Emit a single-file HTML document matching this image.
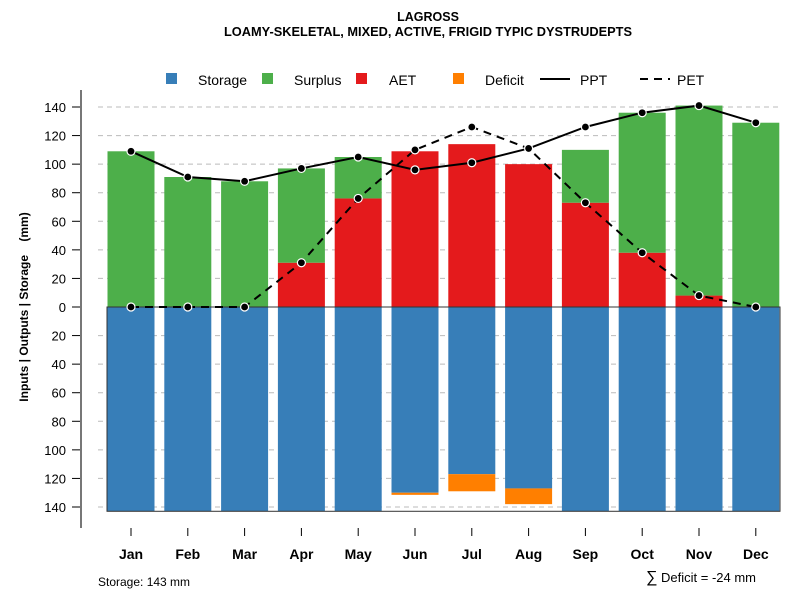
<!DOCTYPE html>
<html><head><meta charset="utf-8"><style>
body{margin:0;background:#fff}
svg{font-family:"Liberation Sans",sans-serif}
</style></head><body>
<svg id="c" width="800" height="600" xmlns="http://www.w3.org/2000/svg">
<text x="428" y="21" text-anchor="middle" font-size="12.5" font-weight="bold">LAGROSS</text>
<text x="428" y="36" text-anchor="middle" font-size="12.8" font-weight="bold">LOAMY-SKELETAL, MIXED, ACTIVE, FRIGID TYPIC DYSTRUDEPTS</text>
<g id="legend" font-size="14">
<g><rect x="166" y="73" width="11" height="11" fill="#377EB8"/><text x="198" y="85">Storage</text></g>
<g><rect x="262" y="73" width="11" height="11" fill="#4DAF4A"/><text x="294" y="85">Surplus</text></g>
<g><rect x="356" y="73" width="11" height="11" fill="#E41A1C"/><text x="389" y="85">AET</text></g>
<g><rect x="453" y="73" width="11" height="11" fill="#FF7F00"/><text x="485" y="85">Deficit</text></g>
<g><line x1="540" y1="79" x2="570" y2="79" stroke="#000" stroke-width="2"/><text x="580" y="85">PPT</text></g>
<g><line x1="640" y1="79" x2="670" y2="79" stroke="#000" stroke-width="2" stroke-dasharray="8,6"/><text x="677" y="85">PET</text></g>
</g>
<text transform="translate(28,307) rotate(-90)" text-anchor="middle" font-size="12" font-weight="bold">Inputs | Outputs | Storage&#160;&#160;&#160;&#160;(mm)</text>
<g id="grid"></g><g id="bars"></g><g id="lines"></g><g id="axes"></g>
<text x="98" y="586" font-size="12">Storage: 143 mm</text>
<text x="646" y="582" font-size="13"><tspan font-size="16">∑</tspan> Deficit = -24 mm</text>
</svg>
<script>
const months=["Jan","Feb","Mar","Apr","May","Jun","Jul","Aug","Sep","Oct","Nov","Dec"];
const aet=[0,0,0,31,76,109,114,100,73,38,8,0];
const surplus=[109,91,88,66,29,0,0,0,37,98,133,129];
const storage=[143,143,143,143,143,130,117,127,143,143,143,143];
const deficit=[0,0,0,0,0,1.5,12,11,0,0,0,0];
const ppt=[109,91,88,97,105,96,101,111,126,136,141,129];
const pet=[0,0,0,31,76,110,126,111,73,38,8,0];
const yTicks=[140,120,100,80,60,40,20,0,-20,-40,-60,-80,-100,-120,-140];
const NS="http://www.w3.org/2000/svg";
const y=v=>307-v*200/140;
const x=i=>131+i*56.8;
const bw=47;
function mk(p,t,a){const e=document.createElementNS(NS,t);for(const k in a)e.setAttribute(k,a[k]);document.getElementById(p).appendChild(e);return e;}
yTicks.forEach(v=>{
 if(v!==0){const g=mk("grid","line",{x1:98,x2:780,y1:y(v),y2:y(v),stroke:"#bbb","stroke-dasharray":"5,4"});
 
 }
 const t=mk("axes","line",{x1:72,x2:81,y1:y(v),y2:y(v),stroke:"#000"});
 
 
 const l=mk("axes","text",{x:66,y:y(v)+5,"text-anchor":"end","font-size":"13"});l.textContent=Math.abs(v);
 
 
});
const ax=mk("axes","line",{x1:81,x2:81,y1:90,y2:528,stroke:"#777","stroke-width":2});


months.forEach((m,i)=>{
 const cx=x(i),l=cx-bw/2;
 const s=mk("bars","rect",{x:l,y:y(0),width:bw,height:y(-storage[i])-y(0),fill:"#377EB8"});
 
 
 if(deficit[i]>0){const d=mk("bars","rect",{x:l,y:y(-storage[i]),width:bw,height:y(-storage[i]-deficit[i])-y(-storage[i]),fill:"#FF7F00"});
 
 }
 if(aet[i]>0){const a=mk("bars","rect",{x:l,y:y(aet[i]),width:bw,height:y(0)-y(aet[i]),fill:"#E41A1C"});
 
 }
 if(surplus[i]>0){const u=mk("bars","rect",{x:l,y:y(aet[i]+surplus[i]),width:bw,height:y(aet[i])-y(aet[i]+surplus[i]),fill:"#4DAF4A"});
 
 }
 const t=mk("axes","line",{x1:cx,x2:cx,y1:528,y2:536,stroke:"#000"});
 
 
 const lb=mk("axes","text",{x:cx,y:559,"text-anchor":"middle","font-size":"14","font-weight":"bold"});lb.textContent=m;
 
 
});
const box=mk("bars","rect",{x:107,y:y(0),width:673,height:y(-143)-y(0),fill:"none",stroke:"#333","stroke-width":1});


function series(arr,name,dash){
 const p=mk("lines","polyline",{points:arr.map((v,i)=>x(i)+","+y(v)).join(" "),fill:"none",stroke:"#000","stroke-width":2,"stroke-dasharray":dash});
 
 
 arr.forEach((v,i)=>{const c=mk("lines","circle",{cx:x(i),cy:y(v),r:4,fill:"#000",stroke:"#fff","stroke-width":1.2});
 
 });
}
series(pet,"pet","8,6");
series(ppt,"ppt","none");
</script>
</body></html>
